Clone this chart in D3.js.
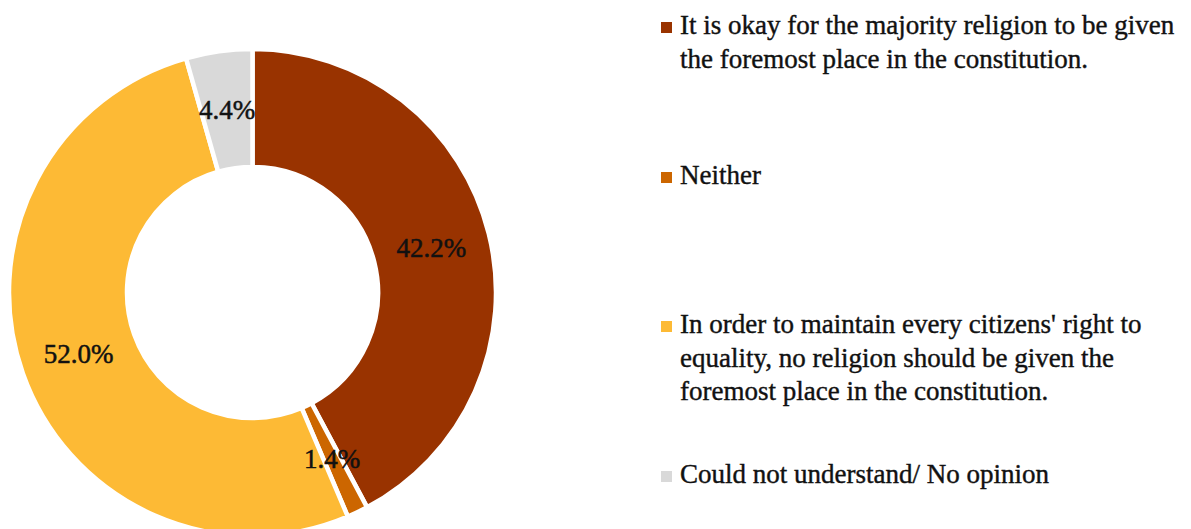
<!DOCTYPE html>
<html>
<head>
<meta charset="utf-8">
<script src="https://cdn.jsdelivr.net/npm/d3@7"></script>
<style>
  html, body { margin: 0; padding: 0; background: #fff; }
  svg { display: block; font-family: "Liberation Serif", "DejaVu Serif", serif; }
</style>
</head>
<body>
<svg id="chart" width="1191" height="529"></svg>
<script>
// categories (legend text, line breaks as in the original)
const categories = [
  "It is okay for the majority religion to be given\nthe foremost place in the constitution.",
  "Neither",
  "In order to maintain every citizens' right to\nequality, no religion should be given the\nforemost place in the constitution.",
  "Could not understand/ No opinion"
];
const values = [42.2, 1.4, 52.0, 4.4];
const labels = ["42.2%", "1.4%", "52.0%", "4.4%"];
const colors = ["#993300", "#CC6600", "#FDBA35", "#D9D9D9"];

const svg = d3.select("#chart");
const cx = 252.5, cy = 292.5;
const outerR = 243.5, innerR = 125.5;

const pie = d3.pie().sort(null).value(d => d.value).startAngle(0).endAngle(2 * Math.PI);
const data = categories.map((c, i) => ({cat: c, value: values[i], label: labels[i], color: colors[i]}));
const arcs = pie(data);

const arc = d3.arc().innerRadius(innerR).outerRadius(outerR);
const labelArc = d3.arc().innerRadius((innerR + outerR) / 2).outerRadius((innerR + outerR) / 2);

const g = svg.append("g").attr("transform", `translate(${cx},${cy})`);

g.selectAll("path.slice")
  .data(arcs)
  .enter()
  .append("path")
  .attr("class", "slice")
  .attr("d", arc)
  .attr("fill", d => d.data.color)
  .attr("stroke", "#fff")
  .attr("stroke-width", 4.5)
  .attr("stroke-linejoin", "miter");

// data labels, a bit heavier like the original
g.selectAll("text.lbl")
  .data(arcs)
  .enter()
  .append("text")
  .attr("class", "lbl")
  .attr("x", d => labelArc.centroid(d)[0])
  .attr("y", d => labelArc.centroid(d)[1])
  .attr("dy", "0.35em")
  .attr("text-anchor", "middle")
  .attr("font-size", 27)
  .attr("fill", "#111")
  .attr("stroke", "#111")
  .attr("stroke-width", 0.5)
  .text(d => d.data.label);

// legend
const legendX = 661, textX = 680;
const firstBaselines = [34, 184, 333, 483];
const lineH = 33.5;

const legend = svg.append("g");
const items = legend.selectAll("g.item")
  .data(data)
  .enter()
  .append("g")
  .attr("class", "item")
  .attr("transform", (d, i) => `translate(0,${firstBaselines[i]})`);

items.append("rect")
  .attr("x", legendX)
  .attr("y", -12)
  .attr("width", 11)
  .attr("height", 11)
  .attr("fill", d => d.color);

items.append("text")
  .attr("font-size", 27)
  .attr("fill", "#111")
  .attr("stroke", "#111")
  .attr("stroke-width", 0.4)
  .each(function(d) {
    const t = d3.select(this);
    d.cat.split("\n").forEach((line, j) => {
      t.append("tspan")
        .attr("x", textX)
        .attr("y", j * lineH)
        .text(line);
    });
  });
</script>
</body>
</html>
